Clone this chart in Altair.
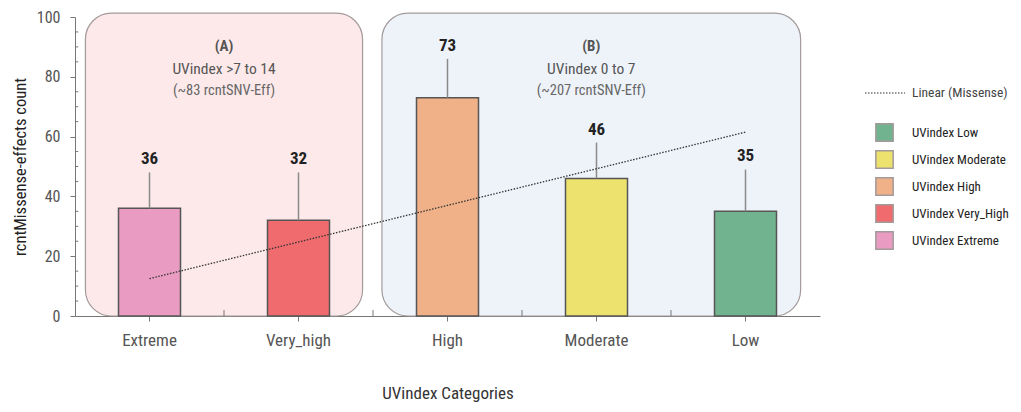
import altair as alt
import pandas as pd

# ---- data ----
categories = ["Extreme", "Very_high", "High", "Moderate", "Low"]
counts = [36, 32, 73, 46, 35]
upper = [48, 48, 86, 58, 49]
legend_labels = ["UVindex Extreme", "UVindex Very_High", "UVindex High",
                 "UVindex Moderate", "UVindex Low"]
legend_order = ["UVindex Low", "UVindex Moderate", "UVindex High",
                "UVindex Very_High", "UVindex Extreme"]
colors = ["#e99bc2", "#ef6b6d", "#f0b189", "#eee26f", "#72b38f"]

trend_x = ["Extreme", "Low"]
trend_y = [12.5, 61.5]
trend_name = "Linear (Missense)"

group_heads = ["(A)", "(B)"]
group_line1 = ["UVindex >7 to 14", "UVindex 0 to 7"]
group_line2 = ["(~83 rcntSNV-Eff)", "(~207 rcntSNV-Eff)"]
group_start = [0.07, 2.06]   # in category-band units
group_end = [1.93, 4.87]
group_top = [101.3, 101.3]
group_fill = ["#fde9ea", "#eef3fa"]

y_major = [0, 20, 40, 60, 80, 100]
y_minor = [5, 10, 15, 25, 30, 35, 45, 50, 55, 65, 70, 75, 85, 90, 95]
band_edges = [1, 2, 3, 4]

FONT = "Roboto Condensed"

bars_df = pd.DataFrame({"cat": categories, "count": counts, "upper": upper,
                        "lab": legend_labels})
trend_df = pd.DataFrame({"cat": trend_x, "v": trend_y, "name": [trend_name] * 2})
box_df = pd.DataFrame({"x0": group_start, "x1": group_end, "top": group_top,
                       "fill": group_fill, "head": group_heads,
                       "l1": group_line1, "l2": group_line2})
box_df["mid"] = (box_df["x0"] + box_df["x1"]) / 2
box_df["zero"] = 0
minor_df = pd.DataFrame({"v": y_minor, "a": 0.0, "b": 0.022})
edge_df = pd.DataFrame({"e": band_edges, "a": 0.0, "b": 2.0})

yscale = alt.Scale(domain=[0, 100], nice=False)
xq = alt.Scale(domain=[0, 5], nice=False, zero=False)

boxes = alt.Chart(box_df).mark_rect(cornerRadius=26, stroke="#a39a9a",
                                    strokeWidth=1.2).encode(
    x=alt.X("x0:Q", scale=xq, axis=None),
    x2="x1:Q",
    y=alt.Y("zero:Q", scale=yscale),
    y2="top:Q",
    fill=alt.Fill("fill:N", scale=None),
)

heads = alt.Chart(box_df).mark_text(font=FONT, fontSize=15, fontWeight="bold",
                                    color="#555555", dy=33).encode(
    x=alt.X("mid:Q", scale=xq, axis=None),
    y=alt.Y("top:Q", scale=yscale),
    text="head:N",
)
line1 = alt.Chart(box_df).mark_text(font=FONT, fontSize=15.5, color="#555555",
                                    dy=56).encode(
    x=alt.X("mid:Q", scale=xq, axis=None),
    y=alt.Y("top:Q", scale=yscale),
    text="l1:N",
)
line2 = alt.Chart(box_df).mark_text(font=FONT, fontSize=14.5, color="#666666",
                                    dy=78).encode(
    x=alt.X("mid:Q", scale=xq, axis=None),
    y=alt.Y("top:Q", scale=yscale),
    text="l2:N",
)

minor = alt.Chart(minor_df).mark_rule(color="#777777", strokeWidth=1).encode(
    x=alt.X("a:Q", scale=xq, axis=None), x2="b:Q",
    y=alt.Y("v:Q", scale=yscale))

edges = alt.Chart(edge_df).mark_rule(color="#777777", strokeWidth=1).encode(
    x=alt.X("e:Q", scale=xq, axis=None),
    y=alt.Y("a:Q", scale=yscale), y2="b:Q")

box_layer = alt.layer(boxes, heads, line1, line2, minor, edges)

xaxis = alt.Axis(title="UVindex Categories", labelAngle=0, labelFont=FONT,
                 labelFontSize=17, labelColor="#555555", titleFont=FONT,
                 titleFontSize=17, titleFontWeight="normal", titleColor="#333333",
                 labelPadding=11, titlePadding=37, tickSize=5,
                 domainColor="#777777", tickColor="#777777")
yaxis = alt.Axis(title="rcntMissense-effects count", values=y_major,
                 labelFont=FONT, labelFontSize=16, labelColor="#555555",
                 titleFont=FONT, titleFontSize=16.5, titleFontWeight="normal",
                 titleColor="#222222", labelPadding=10, titlePadding=8,
                 tickSize=5, grid=False, domainColor="#777777", tickColor="#777777")

xcat = alt.X("cat:N", sort=categories, axis=xaxis,
             scale=alt.Scale(paddingInner=0, paddingOuter=0))

bars = alt.Chart(bars_df).mark_bar(size=62, stroke="#555555", strokeWidth=1.5).encode(
    x=xcat,
    y=alt.Y("count:Q", scale=yscale, axis=yaxis),
    fill=alt.Fill("lab:N", scale=alt.Scale(domain=legend_order,
                                          range=[colors[legend_labels.index(l)] for l in legend_order]),
                  legend=alt.Legend(title=None, orient="none", legendX=800, legendY=106,
                                    symbolType="square", symbolSize=300,
                                    symbolStrokeColor="#50708f", symbolStrokeWidth=1.5,
                                    symbolOpacity=1, labelFont=FONT, labelFontSize=13,
                                    labelColor="#222222", labelOffset=18, rowPadding=2,
                                    padding=0)),
)

errs = alt.Chart(bars_df).mark_rule(color="#8a8a8a", strokeWidth=1.5).encode(
    x=xcat, y=alt.Y("count:Q", scale=yscale), y2="upper:Q")

vals = alt.Chart(bars_df).mark_text(font=FONT, fontSize=17, fontWeight="bold",
                                    color="#222222", dy=-13).encode(
    x=xcat, y=alt.Y("upper:Q", scale=yscale), text="count:Q")

trend = alt.Chart(trend_df).mark_line(color="#333333", strokeWidth=1.3,
                                      strokeDash=[1.5, 1.5]).encode(
    x=xcat,
    y=alt.Y("v:Q", scale=yscale),
    strokeDash=alt.StrokeDash("name:N", scale=alt.Scale(range=[[1.5, 1.5]]),
                              legend=alt.Legend(title=None, orient="none",
                                                legendX=789, legendY=55,
                                                symbolType="stroke", symbolSize=1600,
                                                symbolStrokeColor="#333333",
                                                symbolStrokeWidth=1.2,
                                                labelFont=FONT, labelFontSize=13.5,
                                                labelColor="#444444", labelOffset=6,
                                                padding=0)),
)

main_layer = alt.layer(bars, errs, vals, trend)

chart = alt.layer(box_layer, main_layer).resolve_scale(x="independent").properties(
    width=745, height=299,
    autosize=alt.AutoSizeParams(type="none"),
    padding={"left": 67, "top": 9, "right": 193, "bottom": 88},
).configure_view(stroke=None)

chart.save("out.html", embed_options={"renderer": "svg", "actions": False})
